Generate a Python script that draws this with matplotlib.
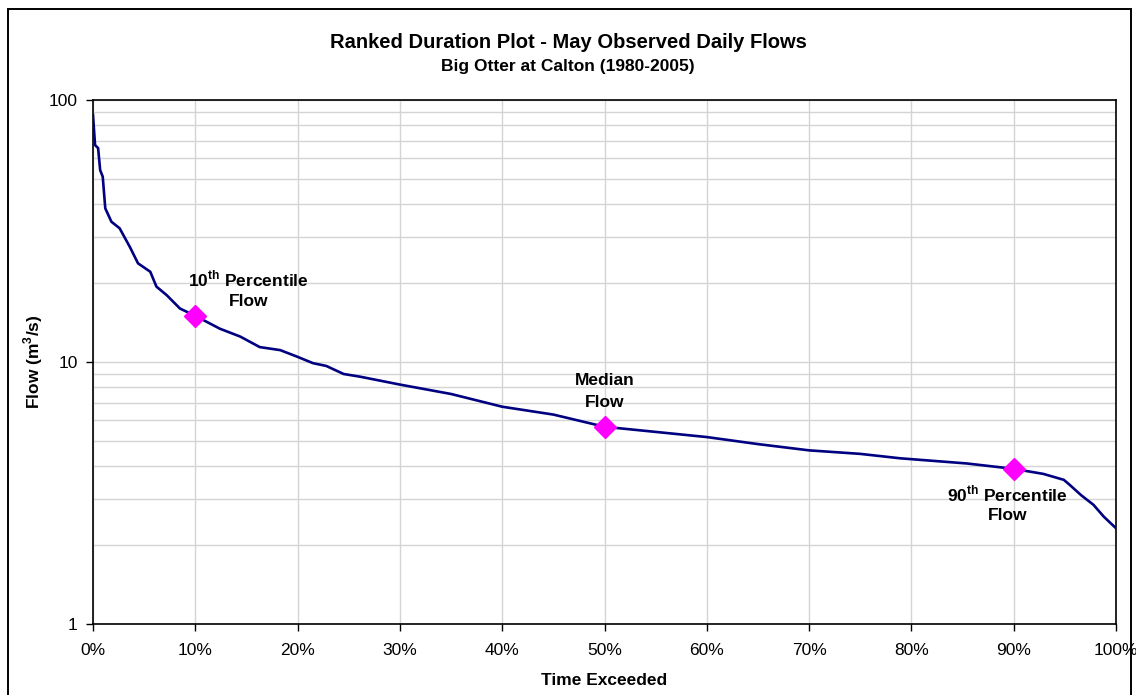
import numpy as np
import matplotlib
matplotlib.use('Agg')
import matplotlib.pyplot as plt
from matplotlib.ticker import FuncFormatter, NullFormatter, PercentFormatter
from matplotlib.patches import Rectangle

plt.rcParams['font.family'] = ['Liberation Sans', 'DejaVu Sans']
plt.rcParams['mathtext.fontset'] = 'custom'
plt.rcParams['mathtext.rm'] = 'Liberation Sans:bold'
plt.rcParams['mathtext.bf'] = 'Liberation Sans:bold'

# ranked flows (% of time exceeded, m3/s)
pct = [0, 0.2, 0.5, 0.7, 0.95, 1.2, 1.8, 2.6, 3.6, 4.4, 5.6, 6.2, 7.2, 8.5, 10,
       12.4, 14.4, 16.3, 18.3, 19.9, 21.5, 22.8, 24.5, 26.1, 30, 35, 40, 45,
       50, 55, 60, 65, 70, 75, 78.9, 85.4, 90, 92.9, 94.9, 95.5, 96.6, 97.8,
       98.8, 100]
flow = [87.7, 67.3, 65.5, 54, 51, 38.6, 34.3, 32.4, 27.5, 23.8, 22.1, 19.4,
        18.0, 16.0, 15.0, 13.4, 12.5, 11.4, 11.1, 10.5, 9.9, 9.66, 9.0, 8.79,
        8.2, 7.55, 6.75, 6.3, 5.66, 5.41, 5.17, 4.86, 4.6, 4.46, 4.29, 4.1,
        3.91, 3.74, 3.55, 3.39, 3.1, 2.85, 2.57, 2.32]

mark_pct = [10, 50, 90]
mark_flow = [15.0, 5.66, 3.91]

fig = plt.figure(figsize=(11.36, 6.95), dpi=100)
ax = fig.add_axes([93/1136, 1-624/695, (1116-93)/1136, (624-100)/695])

x = np.array(pct) / 100.0
ax.plot(x, flow, color='#000080', lw=1.9, zorder=3)
ax.plot(np.array(mark_pct)/100.0, mark_flow, 'D', color='#ff00ff', ms=11,
        mec='#ff00ff', zorder=4)

ax.set_yscale('log')
ax.set_ylim(1, 100)
ax.set_xlim(0, 1)
ax.set_xticks(np.arange(0, 1.01, 0.1))
ax.xaxis.set_major_formatter(PercentFormatter(1.0, decimals=0))
ax.yaxis.set_major_formatter(FuncFormatter(lambda v, p: f'{v:g}'))
ax.yaxis.set_minor_formatter(NullFormatter())
ax.tick_params(axis='both', which='major', direction='out', length=5,
               width=1, labelsize=12.5, pad=6, color='black')
ax.tick_params(axis='y', which='minor', length=0)
ax.tick_params(axis='x', pad=9)
ax.grid(True, which='both', color='#d4d4d4', lw=1.0, zorder=0)
for s in ax.spines.values():
    s.set_color('black')
    s.set_linewidth(1.2)

ax.set_xlabel('Time Exceeded', fontsize=12.5, fontweight='bold')
ax.set_ylabel(r'Flow (m$^{3}$/s)', fontsize=12.5, fontweight='bold')
ax.xaxis.set_label_coords(0.5, -0.093)
ax.yaxis.set_label_coords(-0.047, 0.5)

fig.text(568/1136, 1-42/695, 'Ranked Duration Plot - May Observed Daily Flows',
         ha='center', va='center', fontsize=14.5, fontweight='bold')
fig.text(568/1136, 1-67/695, 'Big Otter at Calton (1980-2005)',
         ha='center', va='center', fontsize=12.5, fontweight='bold')

labels = [
    (0, r'10$^{\rm th}$ Percentile', (53, 37)),
    (0, 'Flow', (53, 14)),
    (1, 'Median', (0, 46)),
    (1, 'Flow', (0, 24)),
    (2, r'90$^{\rm th}$ Percentile', (-6, -25)),
    (2, 'Flow', (-6, -47)),
]
for i, txt, off in labels:
    ax.annotate(txt, (mark_pct[i]/100.0, mark_flow[i]), xytext=off,
                textcoords='offset pixels', ha='center', va='center',
                fontsize=12.5, fontweight='bold', zorder=5)

fig.patches.append(Rectangle((8/1136, -0.02), (1131-8)/1136, 1-9/695+0.02,
                             transform=fig.transFigure, fill=False,
                             edgecolor='black', lw=1.4))

fig.savefig('out.png', dpi=100)
